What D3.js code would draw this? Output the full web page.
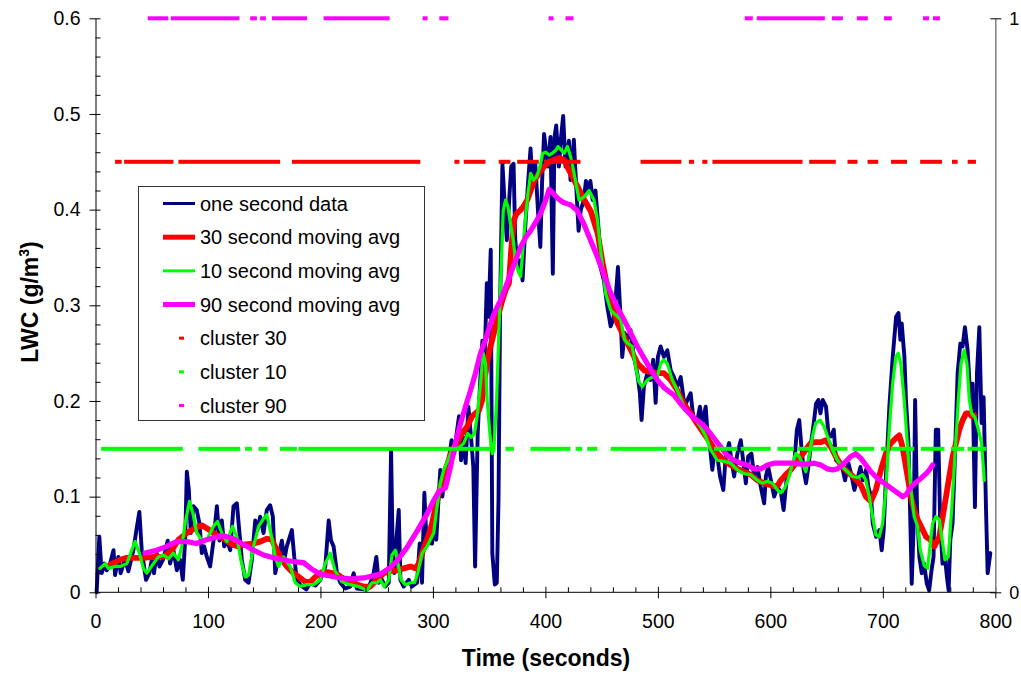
<!DOCTYPE html>
<html>
<head>
<meta charset="utf-8">
<script src="https://cdn.jsdelivr.net/npm/d3@7"></script>
<style>
  html, body { margin: 0; padding: 0; background: #fff; }
  svg { display: block; font-family: "Liberation Sans", Arial, sans-serif; }
</style>
</head>
<body>
<svg id="chart" width="1021" height="676"></svg>
<script>
// ---- one second LWC record: [time (s), LWC (g/m3)] ----
const oneSecond = [
  [1,0.0],[3.4,0.058],[5.5,0.02],[8,0.03],[10,0.023],[13,0.03],[16,0.044],[17.4,0.018],[20.3,0.037],[22.4,0.02],
  [26.3,0.035],[29.2,0.022],[33.7,0.044],[36.6,0.067],[39,0.084],[41.1,0.044],[44.9,0.013],[47.9,0.02],[50,0.034],[52,0.02],
  [54.4,0.041],[56.8,0.027],[60.4,0.035],[64.2,0.054],[66.3,0.03],[69.3,0.044],[72.3,0.023],[75.2,0.034],[77.6,0.013],[79.7,0.054],
  [81.2,0.126],[83,0.107],[84.7,0.062],[87.1,0.09],[90,0.086],[92.4,0.072],[94.5,0.041],[96.6,0.048],[99,0.037],[101.9,0.027],
  [104.9,0.054],[107.9,0.09],[110.2,0.054],[112.3,0.075],[114.4,0.048],[116.8,0.054],[119.8,0.044],[122.7,0.09],[125.7,0.093],[128,0.062],
  [130.1,0.034],[133.1,0.013],[136.1,0.01],[139,0.034],[142,0.075],[144,0.065],[146.4,0.079],[149.4,0.062],[152.3,0.086],[155.3,0.091],
  [157.7,0.079],[159.8,0.02],[162.7,0.037],[165.7,0.054],[167.8,0.034],[170.1,0.048],[174.6,0.065],[176.7,0.037],[179,0.013],[182,0.008],
  [185,0.005],[187.4,0.003],[191,0.01],[195.4,0.007],[199.9,0.013],[204.3,0.027],[207.3,0.075],[209.4,0.054],[211.7,0.048],[214.7,0.02],
  [217.6,0.01],[222,0.004],[226.5,0.006],[229.5,0.02],[232.4,0.004],[238.4,0.003],[242.8,0.004],[247.3,0.02],[249.7,0.037],[251.8,0.01],
  [254.7,0.013],[257.7,0.006],[260.7,0.01],[262.8,0.149],[264.2,0.044],[265.7,0.02],[267.5,0.055],[269.6,0.086],[271.1,0.013],[274,0.006],
  [278.5,0.013],[281.4,0.006],[285.9,0.01],[288.2,0.051],[290.3,0.01],[292.4,0.104],[294.2,0.055],[296.3,0.051],[297.7,0.058],[299.2,0.051],
  [300.7,0.072],[303,0.055],[305.1,0.1],[306.6,0.128],[308.4,0.1],[310.2,0.124],[312,0.114],[314,0.138],[316.6,0.159],[319,0.145],
  [321.1,0.166],[323.2,0.184],[325,0.138],[327,0.162],[329.1,0.135],[331.5,0.194],[333.9,0.162],[335.9,0.131],[337.5,0.027],[339.8,0.166],
  [341.9,0.218],[344,0.263],[345.8,0.235],[347.9,0.323],[349.4,0.288],[351.4,0.358],[352.8,0.041],[355,0.008],[356.8,0.01],[358.3,0.096],
  [359.8,0.305],[361.8,0.448],[363.6,0.41],[365.7,0.368],[367.8,0.41],[369.6,0.445],[371.7,0.448],[373.2,0.368],[375.5,0.34],[377.6,0.347],
  [379.7,0.326],[382.1,0.382],[384.5,0.427],[386.8,0.464],[388.6,0.424],[391,0.448],[393.4,0.399],[395.5,0.361],[397,0.427],[398.8,0.479],
  [400.6,0.462],[402.4,0.445],[404.5,0.476],[406.6,0.333],[408.1,0.476],[409.6,0.488],[412,0.445],[413.7,0.473],[415.8,0.498],[417.9,0.445],
  [420.9,0.472],[422.3,0.431],[425.3,0.473],[427.4,0.424],[429.5,0.378],[431.5,0.4],[434.2,0.41],[436,0.43],[438,0.42],[440,0.43],
  [442,0.41],[444.5,0.42],[447.6,0.375],[449,0.34],[452,0.326],[455,0.299],[458,0.278],[460.3,0.285],[462.4,0.306],[464.5,0.34],
  [466.8,0.288],[468.3,0.246],[470.4,0.271],[472.8,0.264],[475.7,0.274],[478.7,0.246],[481.7,0.229],[484,0.208],[485.5,0.18],[487.6,0.215],
  [490.6,0.229],[493.5,0.222],[495.9,0.243],[498,0.198],[500,0.246],[502.4,0.257],[505.4,0.246],[508.4,0.253],[511.4,0.232],[514.3,0.225],
  [517.3,0.215],[520.3,0.225],[523.8,0.194],[526.2,0.201],[529.1,0.208],[531.5,0.183],[534.5,0.176],[537.4,0.194],[539.5,0.176],[542.5,0.194],
  [544,0.169],[546.3,0.152],[548.4,0.128],[550.5,0.149],[552.9,0.142],[555.3,0.121],[558.2,0.107],[560.3,0.142],[563.3,0.156],[565.4,0.138],
  [567.8,0.121],[570.7,0.145],[573.7,0.159],[576.1,0.135],[578.2,0.114],[580.3,0.142],[583.2,0.145],[585.6,0.121],[588.6,0.131],[591.5,0.11],
  [594.5,0.093],[596,0.121],[598.1,0.131],[601,0.114],[603.4,0.1],[606.4,0.11],[609.4,0.104],[611.8,0.086],[614.7,0.121],[618.3,0.128],
  [621.3,0.135],[623.6,0.17],[625.7,0.18],[627.8,0.149],[629.6,0.128],[631.7,0.114],[633.8,0.131],[636.2,0.156],[638.6,0.177],[640.6,0.197],
  [642.7,0.201],[644.5,0.187],[646.6,0.201],[649.5,0.194],[651.6,0.166],[654,0.163],[656.4,0.17],[658.4,0.138],[661.4,0.135],[664.4,0.128],
  [666.4,0.117],[669.4,0.135],[671.8,0.124],[674.7,0.107],[677.1,0.117],[680.1,0.131],[682.1,0.117],[685.1,0.128],[687.2,0.11],[689.6,0.1],
  [691,0.072],[694,0.058],[697,0.065],[699,0.044],[700.8,0.065],[702.9,0.124],[705.8,0.194],[708.8,0.246],[711.8,0.288],[713.9,0.292],
  [715.6,0.264],[716.8,0.281],[719.2,0.246],[720.6,0.201],[722.7,0.159],[724.5,0.072],[725.7,0.009],[727.5,0.072],[728.7,0.201],[730.4,0.089],
  [732.5,0.037],[734.6,0.02],[736.7,0.03],[739.1,0.009],[741.2,0.002],[743.3,0.023],[745.1,0.037],[747.1,0.17],[749.2,0.17],[751,0.072],
  [753.1,0.03],[755.2,0.037],[757,0.016],[758.5,0.002],[760,0.055],[762,0.072],[764.1,0.142],[766.5,0.229],[768.9,0.26],[770.9,0.257],
  [773,0.277],[775.4,0.253],[777.8,0.204],[779.8,0.218],[781.9,0.089],[783.7,0.229],[785.8,0.277],[787.8,0.177],[789.6,0.204],[791.7,0.089],
  [793.2,0.02],[795.6,0.041]
];

// ---- 30 second moving average ----
const avg30 = [
  [13,0.029],[21.9,0.034],[27.8,0.036],[33.7,0.036],[42.6,0.036],[51.5,0.037],[60.4,0.037],[67.8,0.044],[73.7,0.055],[81.2,0.062],
  [88.5,0.067],[94.5,0.07],[98.9,0.067],[104.9,0.062],[110.8,0.058],[115.3,0.055],[121.2,0.05],[127.1,0.048],[133.1,0.05],[140.5,0.051],
  [146.4,0.053],[152.4,0.056],[156.8,0.055],[161.2,0.044],[165.7,0.034],[170.1,0.027],[176.1,0.02],[182,0.015],[186.5,0.011],[191,0.011],
  [195.4,0.016],[201.3,0.021],[207.2,0.021],[214.7,0.019],[220.6,0.014],[226.5,0.01],[232.4,0.008],[238.4,0.006],[244.3,0.006],[250.3,0.013],
  [256.2,0.02],[262.2,0.022],[268.1,0.023],[274,0.025],[280,0.027],[284.4,0.025],[287.4,0.03],[290.4,0.041],[293.3,0.051],[296.3,0.06],
  [299.2,0.072],[302.2,0.088],[305.1,0.103],[308.1,0.116],[311.1,0.128],[314,0.138],[317,0.149],[321.5,0.156],[326,0.166],[330.4,0.173],
  [334.9,0.184],[337.8,0.187],[340.8,0.19],[343.8,0.201],[346.8,0.229],[349.7,0.25],[352.7,0.264],[355.7,0.278],[358.6,0.292],[361.6,0.305],
  [364.6,0.316],[367.6,0.323],[369.6,0.358],[372,0.389],[374.4,0.396],[377.4,0.399],[380.3,0.403],[383.9,0.41],[386.9,0.42],[390.4,0.431],
  [394.3,0.438],[398.8,0.445],[403.3,0.45],[407.7,0.452],[412.2,0.454],[416.7,0.452],[421.1,0.441],[425,0.432],[428.6,0.424],[434.6,0.41],
  [440.5,0.398],[446.5,0.375],[450.9,0.344],[455.3,0.318],[459.8,0.298],[464.2,0.281],[470.1,0.267],[476.1,0.253],[482,0.239],[488,0.232],
  [493.9,0.23],[501.3,0.229],[505.4,0.229],[511.4,0.222],[517.3,0.211],[523.2,0.197],[529.1,0.187],[535.1,0.176],[541,0.166],[546.9,0.156],
  [552.9,0.145],[558.8,0.138],[564.7,0.133],[570.7,0.129],[576.6,0.126],[582.5,0.123],[588.5,0.117],[594.4,0.114],[600.4,0.112],[605.7,0.11],
  [609.3,0.117],[613.7,0.123],[618.2,0.128],[622.6,0.135],[627.1,0.142],[631.5,0.149],[636,0.156],[640.4,0.157],[644.9,0.157],[649.3,0.159],
  [653.8,0.152],[658.2,0.142],[662.7,0.133],[668.6,0.126],[674.5,0.12],[680.5,0.112],[684.9,0.1],[689.4,0.095],[693.8,0.107],[698.3,0.128],
  [702.7,0.145],[707.2,0.156],[711.6,0.161],[714.6,0.164],[716.7,0.156],[719,0.142],[722,0.121],[725,0.1],[727.9,0.086],[730.9,0.076],
  [733.9,0.069],[738.4,0.058],[742.2,0.055],[745.8,0.048],[750.2,0.058],[753.2,0.079],[756.2,0.1],[759.1,0.121],[762.1,0.142],[765.1,0.156],
  [768,0.17],[771,0.18],[774,0.187],[776.9,0.187],[779,0.184],[781.3,0.185]
];

// ---- 10 second moving average ----
const avg10 = [
  [4,0.025],[8.5,0.03],[11.4,0.025],[17.4,0.027],[21.9,0.027],[27.8,0.03],[32.2,0.044],[35.2,0.053],[39,0.041],[42.6,0.025],
  [45.6,0.02],[51.5,0.03],[55.9,0.037],[60.4,0.039],[64.8,0.035],[69.3,0.041],[73.7,0.034],[76.7,0.048],[79.7,0.072],[83.5,0.095],
  [86.5,0.083],[90,0.062],[94.5,0.055],[99,0.055],[104.9,0.069],[108.5,0.074],[112.3,0.062],[116.8,0.053],[121.8,0.069],[125.7,0.058],
  [129.2,0.034],[133.1,0.016],[136.1,0.018],[140.5,0.048],[145,0.069],[149.4,0.077],[152.3,0.081],[155.9,0.062],[159.8,0.037],[162.7,0.027],
  [167.2,0.037],[173.1,0.027],[177.6,0.01],[182,0.006],[188,0.008],[193.9,0.008],[199.9,0.013],[204.3,0.03],[208.7,0.041],[213.2,0.022],
  [219.1,0.011],[226.5,0.008],[233.9,0.006],[241.3,0.002],[245.8,0.01],[250.3,0.01],[253.2,0.013],[256.8,0.006],[260.7,0.013],[263.6,0.039],
  [266.6,0.044],[269,0.03],[271.7,0.013],[275.5,0.008],[280,0.01],[283.6,0.01],[286.5,0.02],[290.4,0.041],[294.8,0.048],[297.7,0.055],
  [300.7,0.062],[303.7,0.09],[306.6,0.114],[309.6,0.128],[314,0.14],[317,0.149],[323,0.151],[327.4,0.156],[331,0.166],[334,0.162],
  [337,0.166],[339.3,0.184],[342.3,0.218],[344.6,0.25],[346.8,0.239],[348.2,0.201],[350.6,0.166],[352.7,0.145],[354.2,0.149],[356.6,0.201],
  [358.6,0.27],[360.7,0.34],[362.5,0.399],[364.6,0.41],[366.7,0.403],[369,0.385],[371.4,0.368],[373.5,0.347],[375.6,0.336],[378,0.33],
  [380.3,0.364],[382.4,0.392],[384.5,0.417],[386.9,0.438],[389.3,0.431],[392.2,0.434],[395.2,0.445],[397.6,0.459],[400.3,0.46],[403.3,0.457],
  [406.2,0.459],[409.2,0.462],[411.3,0.466],[414.3,0.462],[416.7,0.459],[419.6,0.466],[422.5,0.455],[425.5,0.438],[429.9,0.41],[434.2,0.413],
  [438.8,0.42],[443.2,0.41],[446.2,0.39],[449.1,0.358],[453.6,0.312],[458,0.295],[462.4,0.29],[466.9,0.285],[470.4,0.264],[473.4,0.26],
  [477.2,0.257],[480.2,0.236],[483.1,0.22],[486.1,0.215],[490.6,0.222],[495,0.225],[499.4,0.225],[502.4,0.239],[505.4,0.243],[508.4,0.239],
  [512.8,0.222],[517.3,0.211],[523.2,0.194],[527.6,0.187],[532.1,0.183],[538,0.173],[542.5,0.163],[546.9,0.149],[552.9,0.138],[558.8,0.137],
  [564.7,0.135],[570.7,0.128],[576.6,0.124],[582.5,0.123],[588.5,0.117],[592.9,0.114],[597.4,0.116],[601.9,0.114],[606.3,0.107],[609.3,0.104],
  [612.8,0.109],[616.7,0.121],[619.7,0.135],[622.6,0.145],[625.6,0.142],[628.5,0.135],[631.5,0.126],[634.5,0.142],[637.4,0.163],[640.4,0.177],
  [644.3,0.18],[647.8,0.173],[650.8,0.163],[655.2,0.149],[659.7,0.138],[664.1,0.131],[668.6,0.126],[673.1,0.121],[677.5,0.12],[682,0.123],
  [684.9,0.117],[687.9,0.1],[690.9,0.079],[693.8,0.06],[696.8,0.058],[699.8,0.072],[702.7,0.107],[705.7,0.17],[708.7,0.218],[711.6,0.246],
  [713.7,0.25],[716,0.239],[719,0.201],[722,0.152],[725,0.107],[727.9,0.079],[730.9,0.069],[733.3,0.044],[736.8,0.028],[739.8,0.025],
  [742.2,0.051],[744.3,0.072],[747.2,0.079],[750.2,0.076],[753.2,0.051],[755.2,0.034],[758.2,0.037],[761.2,0.086],[764.1,0.142],[767.1,0.201],
  [769.5,0.239],[772.4,0.253],[774.8,0.239],[776.9,0.201],[779,0.187],[781.9,0.183],[784.9,0.17],[787.8,0.156],[790.2,0.117]
];

// ---- 90 second moving average ----
const avg90 = [
  [44,0.041],[54.4,0.044],[63.3,0.048],[72.2,0.053],[81.2,0.053],[90,0.051],[98.9,0.055],[107.9,0.058],[113.8,0.059],[122.7,0.056],
  [131.6,0.05],[140.5,0.044],[149.4,0.039],[158.3,0.036],[167.2,0.034],[176.1,0.032],[185,0.031],[192.4,0.024],[199.8,0.019],[208.7,0.017],
  [217.6,0.015],[226.5,0.014],[238.4,0.015],[253.2,0.019],[262.2,0.026],[268.1,0.033],[277,0.047],[285.9,0.064],[294.8,0.082],[300.7,0.096],
  [305.1,0.105],[311.1,0.109],[315.6,0.131],[320,0.156],[324.4,0.176],[328.9,0.194],[333.4,0.211],[337.8,0.229],[342.3,0.25],[346.8,0.264],
  [351.2,0.281],[355.7,0.295],[360.1,0.305],[364.6,0.319],[369,0.333],[373.5,0.347],[378,0.361],[382.4,0.371],[386.9,0.378],[391.4,0.387],
  [395.8,0.396],[400.3,0.41],[403.3,0.421],[406.2,0.418],[410.7,0.412],[415.2,0.408],[419.6,0.406],[422.3,0.405],[428.3,0.399],[434.2,0.385],
  [440.1,0.368],[446.1,0.351],[452,0.332],[458,0.313],[463.9,0.298],[469.8,0.285],[475.8,0.271],[481.7,0.257],[487.6,0.245],[493.6,0.233],
  [499.5,0.222],[505.4,0.214],[514.3,0.206],[520.3,0.197],[526.2,0.189],[532.1,0.182],[538,0.177],[544,0.17],[549.9,0.161],[555.8,0.152],
  [561.8,0.143],[567.7,0.138],[573.6,0.135],[579.6,0.133],[585.5,0.129],[591.4,0.129],[597.4,0.133],[603.3,0.135],[609.3,0.135],[615.2,0.135],
  [621.1,0.135],[627.1,0.134],[633,0.134],[638.9,0.135],[644.9,0.133],[650.8,0.129],[655.2,0.128],[659.7,0.129],[665.6,0.135],[671.6,0.142],
  [676,0.145],[680.5,0.14],[684.9,0.133],[689.4,0.126],[695.3,0.119],[701.3,0.114],[707.2,0.109],[713.1,0.104],[717.6,0.1],[720.6,0.102],
  [725,0.11],[729.5,0.115],[733.9,0.119],[738.4,0.124],[741.4,0.128],[744.3,0.133]
];

// ---- cluster flags (secondary axis, 0–1): [start s, end s] spans where the flag is set ----
const cluster30Level = 0.75;
const cluster30Spans = [
  [17.4,23.3],[25.4,69.3],[73.7,164.2],[174.6,288.8],[319.1,322.9],[327.4,346.7],[358.5,368.9],[374.9,394.1],
  [398.6,431.2],[484.6,520.9],[527.6,532.1],[539.5,544],[548.5,628.6],[634.5,658.2],[668.6,677.5],[686.4,695.9],
  [707.3,721.5],[733.2,752.6],[761.5,766.5],[775.4,782.8]
];
const cluster10Level = 0.25;
const cluster10Spans = [
  [5,77.6],[91.5,128.6],[133,139],[145,153],[164,179],[180.5,354],[364.5,372],[386.7,422.3],[426.8,432.7],
  [437.2,446.1],[458,507.8],[511.5,524.8],[530.7,544.1],[549.9,570.7],[573.6,600.3],[606.3,621],[624,650.8],
  [655.3,668.6],[673.1,692.3],[698.3,701],[707.3,727.9],[733.9,754.8],[760.6,772.4],[775.4,791.9]
];
const cluster90Level = 1.0;
const cluster90Spans = [
  [46.4,64.8],[66.9,128],[137.5,143.5],[146.4,151.5],[156.8,188],[202.8,261.5],[290.8,295.2],[305.7,313.8],
  [402.8,407.2],[417.9,425],[577.2,584.4],[587.9,648.4],[654.7,664.5],[676.9,686.7],[701,708],[735.7,741],[744.6,750.8]
];

// ---- axes ----
const xTicks = [0, 100, 200, 300, 400, 500, 600, 700, 800];
const yTicks = [0, 0.1, 0.2, 0.3, 0.4, 0.5, 0.6];
const y2Ticks = [0, 1];
const xLabel = "Time (seconds)";
const legendLabels = ["one second data", "30 second moving avg", "10 second moving avg", "90 second moving avg",
                      "cluster 30", "cluster 10", "cluster 90"];

const COLORS = { raw: "#000080", a30: "#ff0000", a10: "#00ff00", a90: "#ff00ff" };

const svg = d3.select("#chart");
const M = { left: 95.5, right: 995.3, top: 18.3, bottom: 592.3 };

const x = d3.scaleLinear().domain([0, 800]).range([M.left, M.right]);
const y = d3.scaleLinear().domain([0, 0.6]).range([M.bottom, M.top]);
const y2 = d3.scaleLinear().domain([0, 1]).range([M.bottom, M.top]);

const FONT = 19.5;
const FAMILY = "Liberation Sans, Arial, sans-serif";

// series lines
const line = d3.line().x(d => x(d[0])).y(d => y(d[1])).curve(d3.curveLinear);
const plot = svg.append("g");

function drawLine(data, color, width) {
  plot.append("path").datum(data)
    .attr("d", line).attr("fill", "none")
    .attr("stroke", color).attr("stroke-width", width)
    .attr("stroke-linejoin", "round").attr("stroke-linecap", "round");
}
drawLine(oneSecond, COLORS.raw, 3.9);
drawLine(avg30, COLORS.a30, 5.8);
drawLine(avg10, COLORS.a10, 3.2);
drawLine(avg90, COLORS.a90, 5.2);

// cluster flag markers (short dashes merging into bars)
function drawCluster(spans, level, color) {
  plot.append("g").selectAll("rect").data(spans).join("rect")
    .attr("x", d => x(d[0]))
    .attr("width", d => Math.max(5, x(d[1]) - x(d[0])))
    .attr("y", y2(level) - 2)
    .attr("height", 4)
    .attr("fill", color);
}
drawCluster(cluster30Spans, cluster30Level, COLORS.a30);
drawCluster(cluster10Spans, cluster10Level, COLORS.a10);
drawCluster(cluster90Spans, cluster90Level, COLORS.a90);

// bottom axis
const gx = svg.append("g").attr("transform", `translate(0,${M.bottom})`)
  .call(d3.axisBottom(x).tickValues(xTicks).tickFormat(d3.format("d")).tickSize(6).tickSizeOuter(0).tickPadding(16));
gx.selectAll(".tick line").attr("y1", -5.5).attr("y2", 6).attr("stroke", "#000");
gx.select(".domain").attr("stroke", "#000").attr("d", `M${M.left},0H${M.right + 1}`);
gx.selectAll("text").attr("font-size", FONT).attr("font-family", FAMILY).attr("fill", "#000");
const gxMinor = svg.append("g").attr("transform", `translate(0,${M.bottom})`)
  .call(d3.axisBottom(x).tickValues(d3.range(20, 800, 20).filter(v => v % 100 !== 0)).tickSize(-5).tickFormat(""));
gxMinor.select(".domain").remove();
gxMinor.selectAll(".tick line").attr("stroke", "#000");

// left axis
const gy = svg.append("g").attr("transform", `translate(${M.left},0)`)
  .call(d3.axisLeft(y).tickValues(yTicks).tickFormat(d => d === 0 ? "0" : d3.format(".1f")(d)).tickSize(6).tickSizeOuter(0).tickPadding(9));
gy.selectAll(".tick line").attr("x1", 5).attr("x2", -6).attr("stroke", "#000");
gy.select(".domain").attr("stroke", "#000");
gy.selectAll("text").attr("font-size", FONT).attr("font-family", FAMILY).attr("fill", "#000");
const minorY = d3.range(1, 30).filter(i => i % 5 !== 0).map(i => i * 0.02);
const gyMinor = svg.append("g").attr("transform", `translate(${M.left},0)`)
  .call(d3.axisLeft(y).tickValues(minorY).tickSize(-5).tickFormat(""));
gyMinor.select(".domain").remove();
gyMinor.selectAll(".tick line").attr("stroke", "#000");

// right (secondary) axis
const gy2 = svg.append("g").attr("transform", `translate(${M.right},0)`)
  .call(d3.axisRight(y2).tickValues(y2Ticks).tickFormat(d3.format("d")).tickSize(6).tickSizeOuter(0).tickPadding(8));
gy2.selectAll(".tick line").attr("x1", -5).attr("x2", 6).attr("stroke", "#000");
gy2.select(".domain").attr("stroke", "#808080").attr("stroke-width", 1.5);
gy2.selectAll("text").attr("font-size", 18).attr("font-family", FAMILY).attr("fill", "#000");

// axis titles
svg.append("text")
  .attr("x", 546).attr("y", 666)
  .attr("text-anchor", "middle").attr("font-weight", "bold").attr("font-size", 23)
  .text(xLabel);

const yTitle = svg.append("text")
  .attr("transform", "translate(38,302) rotate(-90)")
  .attr("text-anchor", "middle").attr("font-weight", "bold").attr("font-size", 23);
yTitle.append("tspan").text("LWC (g/m");
yTitle.append("tspan").attr("font-size", 14).attr("dy", -9).text("3");
yTitle.append("tspan").attr("dy", 9).text(")");

// legend
const lg = svg.append("g");
lg.append("rect").attr("x", 138.5).attr("y", 186.5).attr("width", 286).attr("height", 234)
  .attr("fill", "#fff").attr("stroke", "#333").attr("stroke-width", 1);
const rowY = d3.scalePoint().domain(legendLabels).range([203.5, 405.5]);
const legendStyle = [
  { type: "line", color: COLORS.raw, w: 3 },
  { type: "line", color: COLORS.a30, w: 5 },
  { type: "line", color: COLORS.a10, w: 3 },
  { type: "line", color: COLORS.a90, w: 5 },
  { type: "mark", color: COLORS.a30 },
  { type: "mark", color: COLORS.a10 },
  { type: "mark", color: COLORS.a90 }
];
legendLabels.forEach((lab, i) => {
  const cy = rowY(lab), s = legendStyle[i];
  if (s.type === "line") {
    lg.append("line").attr("x1", 163).attr("x2", 195).attr("y1", cy).attr("y2", cy)
      .attr("stroke", s.color).attr("stroke-width", s.w);
  } else {
    lg.append("rect").attr("x", 179).attr("y", cy - 1.5).attr("width", 5).attr("height", 3).attr("fill", s.color);
  }
  lg.append("text").attr("x", 200).attr("y", cy + 7).attr("font-size", 20).attr("fill", "#000").text(lab);
});
</script>
</body>
</html>
